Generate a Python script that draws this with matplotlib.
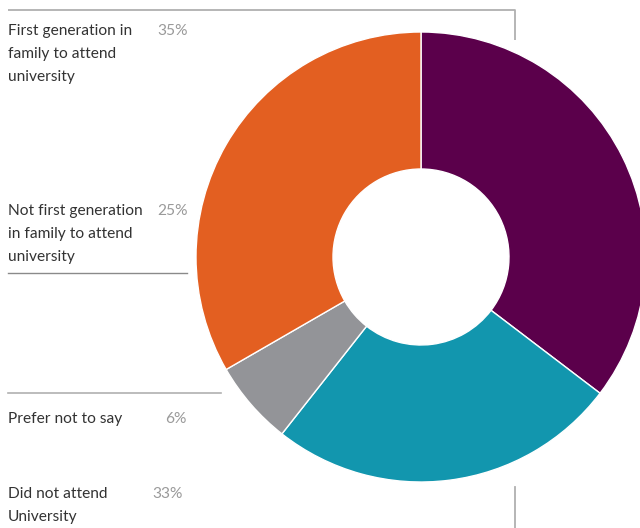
import matplotlib
matplotlib.use("Agg")
import matplotlib.pyplot as plt

categories = ["First generation in\nfamily to attend\nuniversity",
              "Not first generation\nin family to attend\nuniversity",
              "Prefer not to say",
              "Did not attend\nUniversity"]
values = [35, 25, 6, 33]
pct_labels = ["35%", "25%", "6%", "33%"]
colors = ["#5B004B", "#1296AE", "#939498", "#E35F21"]

W, H = 640, 528
fig = plt.figure(figsize=(W / 100, H / 100), dpi=100)
ax = fig.add_axes([0, 0, 1, 1])
ax.set_xlim(0, W)
ax.set_ylim(0, H)
ax.set_aspect("equal")
ax.axis("off")

def Y(y):
    return H - y

R_out, R_in = 225, 88
ax.pie(values, colors=colors, startangle=90, counterclock=False,
       center=(421, Y(257)), radius=R_out,
       wedgeprops=dict(width=R_out - R_in, edgecolor="white", linewidth=1.0))
ax.set_xlim(0, W)
ax.set_ylim(0, H)

font = "Lato"
txt_color = "#333333"
pct_color = "#9a9a9a"
fs = 11.2

# label blocks: (baseline y of first line, pct right x)
label_pos = [(35, 188), (215, 188), (423, 187), (498, 183)]
for cat, pct, (yb, px) in zip(categories, pct_labels, label_pos):
    for i, line in enumerate(cat.split("\n")):
        ax.text(8, Y(yb + 23 * i), line, fontsize=fs, family=font,
                color=txt_color, ha="left", va="baseline")
    ax.text(px, Y(yb), pct, fontsize=fs, family=font, color=pct_color,
            ha="right", va="baseline")

lc = "#b0b0b0"
ax.plot([8, 515, 515], [Y(10), Y(10), Y(40)], color=lc, lw=1.3, solid_capstyle="butt")
ax.plot([8, 187], [Y(273), Y(273)], color="#8a8a8a", lw=1.0)
ax.plot([8, 221], [Y(393), Y(393)], color=lc, lw=1.2)
ax.plot([515, 515], [Y(487), Y(528)], color=lc, lw=1.3)

fig.savefig("out.png", dpi=100)
